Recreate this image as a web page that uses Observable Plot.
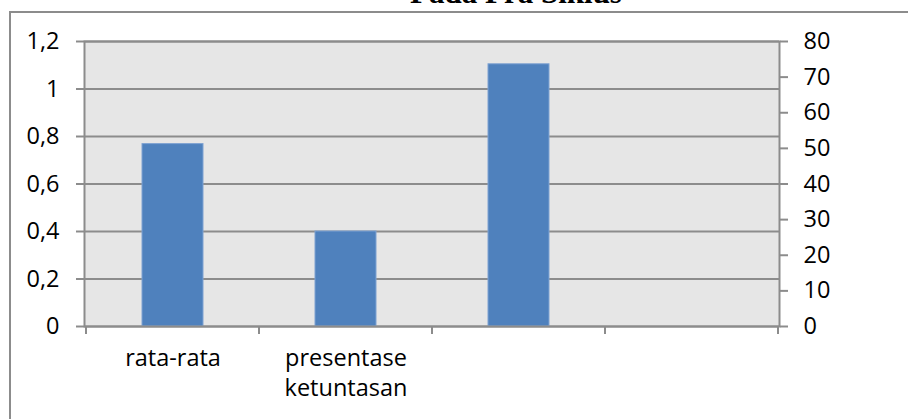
<!DOCTYPE html>
<html>
<head>
<meta charset="utf-8">
<script src="https://cdn.jsdelivr.net/npm/d3@7"></script>
<script src="https://cdn.jsdelivr.net/npm/@observablehq/plot@0.6"></script>
<style>
  html, body { margin: 0; padding: 0; background: #fff; }
  #wrap { position: relative; width: 908px; height: 419px; overflow: hidden; }
  #box { position: absolute; left: 9px; top: 11px; width: 1200px; height: 1200px; border: 2px solid #8c8c8c; box-sizing: border-box; }
  #title { position: absolute; left: 0; width: 1032px; top: -25px; text-align: center; font-family: "Liberation Serif", serif; font-weight: bold; font-size: 31px; line-height: 36px; color: #000; }
  #chart { position: absolute; left: 0; top: 0; }
</style>
</head>
<body>
<div id="wrap">
  <div id="box"></div>
  <div id="title">Pada Pra Siklus</div>
  <div id="chart"></div>
</div>
<script>
// ---- data ----
const categories = ["rata-rata", "presentase\nketuntasan", "", " "];
const barCategories = ["rata-rata", "presentase\nketuntasan", ""];
const barValues = [0.768, 0.40, 1.104];
const leftTicks = [0, 0.2, 0.4, 0.6, 0.8, 1.0, 1.2];
const leftTickLabels = ["0", "0,2", "0,4", "0,6", "0,8", "1", "1,2"];
const rightTicks = [0, 10, 20, 30, 40, 50, 60, 70, 80];
const rightMax = 80;
const leftMax = 1.2;

const data = barCategories.map((c, i) => ({category: c, value: barValues[i]}));

const W = 908, H = 419;
const mL = 84, mR = 129, mT = 41, mB = 93;
const gray = "#8c8c8c";
const barInset = 56;

const chart = Plot.plot({
  width: W,
  height: H,
  marginLeft: mL,
  marginRight: mR,
  marginTop: mT,
  marginBottom: mB,
  style: {fontFamily: "'Open Sans', sans-serif", fontSize: "23.5px", color: "#000", background: "transparent", overflow: "visible"},
  x: {domain: categories, padding: 0},
  y: {domain: [0, leftMax]},
  marks: [
    Plot.frame({fill: "#e6e6e6", stroke: "none"}),
    Plot.gridY(leftTicks, {stroke: gray, strokeOpacity: 1, strokeWidth: 2}),
    Plot.barY(data, {x: "category", y: "value", fill: "#4f81bd", stroke: "#7ea2d2", strokeWidth: 1, insetLeft: barInset, insetRight: barInset}),
    Plot.frame({stroke: gray, strokeWidth: 2}),
    Plot.axisY(leftTicks, {anchor: "left", tickSize: 8, tickPadding: 17, tickFormat: (d) => leftTickLabels[leftTicks.indexOf(d)], stroke: gray, strokeWidth: 2, fill: "#000", label: null}),
    Plot.axisY(rightTicks.map(v => v * leftMax / rightMax), {anchor: "right", tickSize: 8, tickPadding: 16, tickFormat: (d) => String(Math.round(d * rightMax / leftMax)), stroke: gray, strokeWidth: 2, fill: "#000", label: null}),
    Plot.axisX({anchor: "bottom", tickSize: 0, tickPadding: 18, lineHeight: 1.28, fill: "#000", label: null})
  ]
});

// category boundary ticks placed via Plot's own x scale
const xs = chart.scale("x");
const bounds = categories.map(c => xs.apply(c));
bounds.push(xs.apply(categories[categories.length - 1]) + xs.step);
const y0 = chart.scale("y").apply(0);
d3.select(chart).append("g")
  .selectAll("line").data(bounds).join("line")
  .attr("x1", d => d).attr("x2", d => d)
  .attr("y1", y0).attr("y2", y0 + 8)
  .attr("stroke", gray).attr("stroke-width", 2);

document.getElementById("chart").appendChild(chart);
</script>
</body>
</html>
